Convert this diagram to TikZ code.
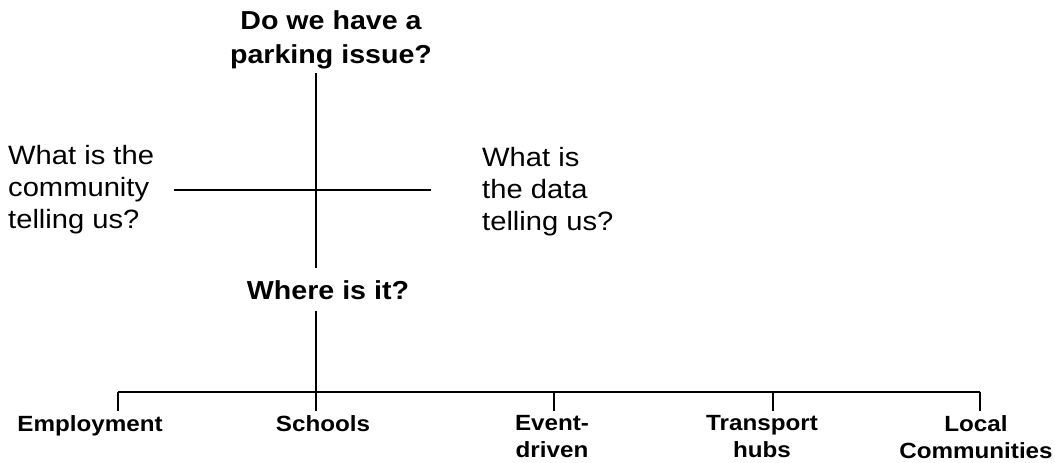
\documentclass[tikz,border=0pt]{standalone}
\usepackage{fontspec}
\setmainfont{Liberation Sans}[FakeStretch=1.1]
\usepackage{tikz}
\usetikzlibrary{positioning}
\tikzset{
  basic/.style  = {inner sep=0pt, align=center},
  main/.style   = {basic, font=\bfseries\fontsize{26}{34}\selectfont},
  side/.style   = {basic, align=left, font=\fontsize{26.5}{32}\selectfont},
  place/.style  = {basic, anchor=north, font=\bfseries\fontsize{22}{27}\selectfont},
  link/.style   = {draw, line width=1.3pt}
}
\begin{document}
\begin{tikzpicture}[x=1pt, y=-1pt]
\useasboundingbox (0,0) rectangle (1055,463);

% the two questions on the spine
\node[main, anchor=north] (issue) at (331,10) {Do we have a\\parking issue?};
\node[main, anchor=base] (where) at (328,299) {Where is it?};

% the two sources, left and right of the cross
\node[side, anchor=north west] (comm) at (8,145) {What is the\\community\\telling us?};
\node[side, anchor=north west] (data) at (482,147) {What is\\the data\\telling us?};

% the places, relatively under the bar
\node[place] (emp) at (90,415)  {Employment};
\node[place] (sch) at (323,415) {Schools};
\node[place] (evt) at (552,415) {Event-\\driven};
\node[place] (hub) at (762,415) {Transport\\hubs};
\node[place] (loc) at (976,415) {Local\\Communities};

% crossing point, bar and drops
\coordinate (cross) at (316,190);
\coordinate (bar) at (316,392);
\coordinate (d1) at (118,392);
\coordinate (d2) at (316,392);
\coordinate (d3) at (554,392);
\coordinate (d4) at (773,392);
\coordinate (d5) at (980,392);

\draw[link, shorten <=4pt, shorten >=12pt] (cross |- issue.south) -- (cross |- where.north);
\draw[link, shorten <=20pt, shorten >=51pt] (comm.east |- cross) -- (data.west |- cross);
\draw[link, shorten <=12pt] (cross |- where.south) -- (bar);
\draw[link] (d1) -- (d5);
\foreach \d/\n in {d1/emp, d2/sch, d3/evt, d4/hub, d5/loc}
  \draw[link, shorten >=4pt] (\d) -- (\d |- \n.north);
\end{tikzpicture}
\end{document}
